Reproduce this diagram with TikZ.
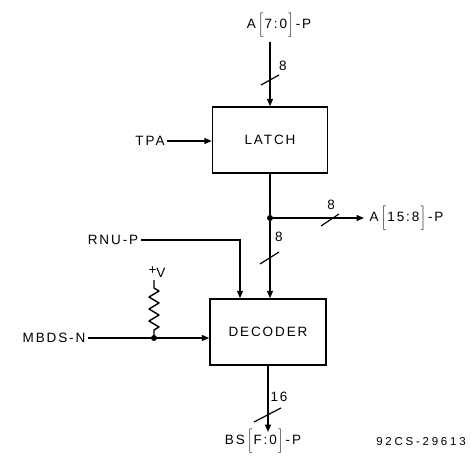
\documentclass[tikz,border=0pt]{standalone}
\usepackage{fontspec}
\setmainfont{Liberation Sans}[LetterSpace=14]
\usetikzlibrary{arrows.meta}
\newcommand{\bk}[1]{$\left[\rule[-5pt]{0pt}{19pt}\right.$#1$\left.\rule[-5pt]{0pt}{19pt}\right]$}
\begin{document}
\begin{tikzpicture}[x=1pt,y=-1pt,
  lbl/.style={font=\fontsize{13.5}{15}\selectfont, inner sep=2.5pt},
  box/.style={draw, line width=1.5pt, minimum width=115pt, minimum height=66pt, font=\fontsize{13.5}{15}\selectfont},
  wire/.style={line width=1.4pt},
  arr/.style={wire, -{Triangle[length=7.5pt,width=6pt]}},
  dot/.style={circle, fill, inner sep=0pt, minimum size=6pt},
  slash/.style={line width=1.2pt}]
\useasboundingbox (0,0) rectangle (471,455);
% boxes
\node[box] (latch) at (270,140) {LATCH};
\node[box, minimum width=116pt] (dec) at (268,332) {DECODER};
% top input
\node[lbl] (a70) at (279,25) {A\,\bk{7:0}\,-P};
\coordinate (a70b) at (270,42);
\draw[arr] (a70b) -- (latch.north);
\draw[slash] (261,85) -- (279,75);
\node[lbl] (n8a) at (283,66) {8};
% TPA
\node[lbl] (tpa) at (150,141) {TPA};
\draw[arr] (tpa.east) -- (tpa.east -| latch.west);
% latch output
\node[dot] (j1) at (270,218) {};
\draw[wire] (latch.south) -- (j1);
\draw[arr] (j1) -- (j1 |- dec.north);
\coordinate (a158e) at (364,218);
\draw[arr] (j1) -- (a158e);
\node[lbl, anchor=west] (a158) at (367,218) {A\,\bk{15:8}\,-P};
\draw[slash] (321,226) -- (339,214);
\node[lbl] (n8b) at (331,205) {8};
\draw[slash] (260,264) -- (279,252);
\node[lbl] (n8c) at (279,237) {8};
% RNU
\node[lbl] (rnu) at (113,240) {RNU-P};
\coordinate (rnuc) at (240,240);
\draw[arr] (rnu.east) -- (rnuc) -- (rnuc |- dec.north);
% MBDS
\node[lbl] (mbds) at (54,338) {MBDS-N};
\node[dot] (j2) at (154,338) {};
\draw[arr] (mbds.east) -- (mbds.east -| dec.west);
\coordinate (vcc) at (154,280);
\node[lbl] (vplus) at (157,272) {\raisebox{3pt}{+}V};
\draw[wire, line join=round] (j2.center) -- ++(0,-8) -- ++(5,-3) -- ++(-10,-6) -- ++(10,-6) -- ++(-10,-6) -- ++(10,-6) -- ++(-10,-6) -- ++(10,-6) -- ++(-5,-3) -- (vcc);
% bottom output
\coordinate (bse) at (268,432);
\draw[arr] (dec.south) -- (bse);
\draw[slash] (254,422) -- (281,408);
\node[lbl] (n16) at (279,397) {16};
\node[lbl] (bs) at (263,441) {BS\,\bk{F:0}\,-P};
\node[font=\fontsize{11.5}{13}\selectfont\addfontfeature{LetterSpace=24}, inner sep=0pt] (code) at (421,442) {92CS-29613};
\end{tikzpicture}
\end{document}
